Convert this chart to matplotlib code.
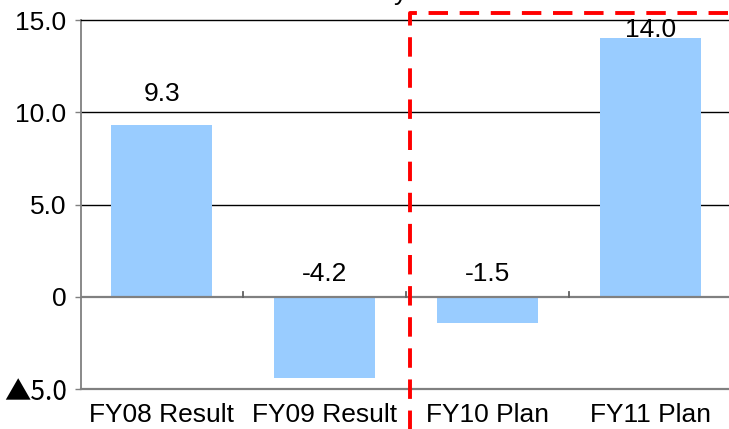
import matplotlib
matplotlib.use("Agg")
import matplotlib.pyplot as plt
import numpy as np

categories = ["FY08 Result", "FY09 Result", "FY10 Plan", "FY11 Plan"]
values = [9.3, -4.4, -1.4, 14.0]
value_labels = ["9.3", "-4.2", "-1.5", "14.0"]
yticks = [-5, 0, 5, 10, 15]
ytick_labels = ["\u25b25.0", "0", "5.0", "10.0", "15.0"]

plt.rcParams["font.family"] = ["Liberation Sans", "DejaVu Sans"]
plt.rcParams["font.size"] = 19

fig = plt.figure(figsize=(7.29, 4.29), dpi=100)
ax = fig.add_axes([80.5 / 729, 1 - 389 / 429, (729 - 80.5) / 729, (389 - 20) / 429])

x = np.arange(len(categories))
ax.bar(x, values, width=0.62, color="#99CCFF", zorder=2)

ax.set_xlim(-0.5, 3.48)
ax.set_ylim(-5, 15)

# gridlines
for g in [5, 10]:
    ax.axhline(g, color="black", lw=1.0, zorder=1)
ax.axhline(0, color="#808080", lw=1.6, zorder=3)

ax.spines["right"].set_visible(False)
ax.spines["top"].set_color("black")
ax.spines["top"].set_linewidth(1.0)
ax.spines["left"].set_color("#808080")
ax.spines["bottom"].set_color("#808080")
ax.spines["left"].set_linewidth(1.3)
ax.spines["bottom"].set_linewidth(1.6)

ax.set_yticks(yticks)
ax.set_yticklabels(ytick_labels)
ax.tick_params(axis="y", length=4, width=1, color="#808080", pad=6)
# the triangle minus sign is drawn full width in the original
ax.get_yticklabels()[0].set_family(["Noto Sans CJK JP", "Liberation Sans"])
ax.set_xticks(x)
ax.set_xticklabels(categories)
ax.tick_params(axis="x", length=0, pad=10)

# small ticks on the zero line between categories
for b in x[:-1] + 0.5:
    ax.plot([b, b], [0, 0.28], color="#606060", lw=1.3, zorder=3)

# value labels
for xi, v, lab in zip(x, values, value_labels):
    if v >= 14:
        ax.annotate(lab, (xi, 15), xytext=(0, 1.5), textcoords="offset points",
                    ha="center", va="top", zorder=4)
    elif v > 0:
        ax.annotate(lab, (xi, v), xytext=(0, 14), textcoords="offset points",
                    ha="center", va="bottom")
    else:
        ax.annotate(lab, (xi, 0), xytext=(0, 8), textcoords="offset points",
                    ha="center", va="bottom")

# red dashed plan box
ax.plot([1.525, 1.525, 3.6], [-7.3, 15.38, 15.38], color="red", lw=2.8,
        linestyle=(0, (5, 3)), clip_on=False, zorder=5)

# clipped title fragment at the top edge
fig.text(394 / 729, 1.0, "y", ha="left", va="baseline", fontsize=19)

fig.savefig("out.png", dpi=100)
